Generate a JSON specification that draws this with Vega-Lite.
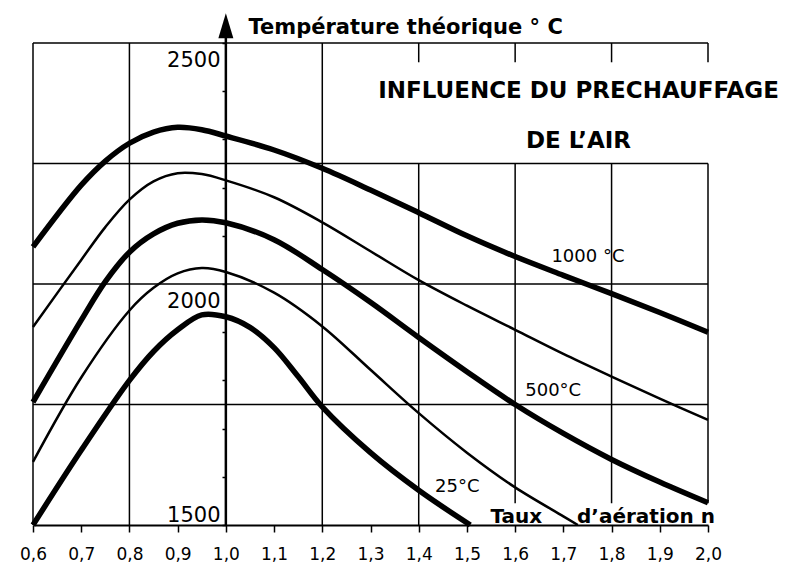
{
  "$schema": "https://vega.github.io/schema/vega-lite/v6.json",
  "width": 675,
  "height": 482,
  "autosize": "none",
  "padding": {"left": 33, "top": 43, "right": 82, "bottom": 45},
  "background": "white",
  "config": {"view": {"stroke": null}, "axis": {"grid": false}},
  "title": {
    "text": ["INFLUENCE DU PRECHAUFFAGE", "DE L’AIR"],
    "anchor": "middle",
    "frame": "group",
    "orient": "top",
    "offset": 0,
    "baseline": "alphabetic",
    "dx": 208,
    "dy": 158,
    "lineHeight": 50,
    "font": "DejaVu Sans",
    "fontSize": 23,
    "fontWeight": "bold",
    "color": "black"
  },
  "encoding": {
    "x": {
      "field": "n",
      "type": "quantitative",
      "scale": {"domain": [0.6, 2.0], "nice": false, "zero": false},
      "axis": {
        "values": [0.6, 0.7, 0.8, 0.9, 1.0, 1.1, 1.2, 1.3, 1.4, 1.5, 1.6, 1.7, 1.8, 1.9, 2.0],
        "labelExpr": "replace(format(datum.value, '.1f'), '.', ',')",
        "labelOverlap": false,
        "labelFlush": false,
        "domainColor": "black",
        "domainWidth": 2,
        "tickColor": "black",
        "tickWidth": 1.5,
        "tickSize": 7,
        "labelFont": "DejaVu Sans",
        "labelFontSize": 17,
        "labelColor": "black",
        "labelPadding": 14,
        "title": "Taux\u00a0\u00a0\u00a0\u00a0\u00a0d’aération n",
        "titleFont": "DejaVu Sans",
        "titleFontWeight": "bold",
        "titleFontSize": 20,
        "titleColor": "black",
        "titleAlign": "left",
        "titleAnchor": "start",
        "titleBaseline": "alphabetic",
        "titleX": 457,
        "titleY": -3
      }
    },
    "y": {
      "field": "t",
      "type": "quantitative",
      "scale": {"domain": [1500, 2500], "nice": false, "zero": false},
      "axis": {
        "orient": "left",
        "offset": -193,
        "domain": false,
        "values": [1500, 1600, 1700, 1800, 1900, 2000, 2100, 2200, 2300, 2400, 2500],
        "format": "d",
        "labelExpr": "datum.value % 500 === 0 ? datum.label : ''",
        "labelOverlap": false,
        "labelFlush": false,
        "tickSize": 4,
        "tickWidth": 1.5,
        "tickColor": "black",
        "labelFont": "DejaVu Sans",
        "labelFontSize": 21,
        "labelColor": "black",
        "labelPadding": 2,
        "labelBaseline": {"condition": {"test": "datum.value === 1500", "value": "bottom"}, "value": "top"},
        "labelOffset": {"condition": {"test": "datum.value === 1500", "value": 0}, "value": 6},
        "title": "Température théorique ° C",
        "titleAngle": 0,
        "titleAlign": "left",
        "titleBaseline": "alphabetic",
        "titleX": 22,
        "titleY": -10,
        "titleFont": "DejaVu Sans",
        "titleFontWeight": "bold",
        "titleFontSize": 21,
        "titleColor": "black"
      }
    }
  },
  "layer": [
    {
      "data": {"values": [
        {"n": 0.6, "n2": 2.0, "t": 2500, "t2": 2500},
        {"n": 0.6, "n2": 2.0, "t": 2250, "t2": 2250},
        {"n": 0.6, "n2": 2.0, "t": 2000, "t2": 2000},
        {"n": 0.6, "n2": 2.0, "t": 1750, "t2": 1750},
        {"n": 0.6, "n2": 0.6, "t": 1500, "t2": 2500},
        {"n": 0.8, "n2": 0.8, "t": 1500, "t2": 2500},
        {"n": 1.2, "n2": 1.2, "t": 1500, "t2": 2500},
        {"n": 1.4, "n2": 1.4, "t": 1500, "t2": 2250},
        {"n": 1.4, "n2": 1.4, "t": 2460, "t2": 2500},
        {"n": 1.6, "n2": 1.6, "t": 1545, "t2": 2250},
        {"n": 1.6, "n2": 1.6, "t": 2460, "t2": 2500},
        {"n": 1.8, "n2": 1.8, "t": 1545, "t2": 2250},
        {"n": 1.8, "n2": 1.8, "t": 2460, "t2": 2500},
        {"n": 2.0, "n2": 2.0, "t": 1545, "t2": 2250},
        {"n": 2.0, "n2": 2.0, "t": 2460, "t2": 2500}
      ]},
      "mark": {"type": "rule", "color": "black", "strokeWidth": 1.5},
      "encoding": {
        "x2": {"field": "n2"},
        "y2": {"field": "t2"}
      }
    },
    {
      "data": {"values": [{"n": 1.0, "t": 1500, "t2": 2512}]},
      "mark": {"type": "rule", "color": "black", "strokeWidth": 2.5},
      "encoding": {"y2": {"field": "t2"}}
    },
    {
      "data": {"values": [{"n": 1.0, "t": 2536}]},
      "mark": {"type": "point", "filled": true, "shape": "M0,-1L0.6,1L-0.6,1Z", "size": 625, "color": "black", "opacity": 1},
      "encoding": {}
    },
    {
      "data": {"values": [
        {"air": "1000", "n": 0.6, "t": 2077},
        {"air": "1000", "n": 0.7, "t": 2205},
        {"air": "1000", "n": 0.75, "t": 2255},
        {"air": "1000", "n": 0.8, "t": 2292},
        {"air": "1000", "n": 0.85, "t": 2315},
        {"air": "1000", "n": 0.9, "t": 2325},
        {"air": "1000", "n": 0.95, "t": 2320},
        {"air": "1000", "n": 1.0, "t": 2307},
        {"air": "1000", "n": 1.1, "t": 2278},
        {"air": "1000", "n": 1.2, "t": 2240},
        {"air": "1000", "n": 1.3, "t": 2195},
        {"air": "1000", "n": 1.4, "t": 2148},
        {"air": "1000", "n": 1.5, "t": 2100},
        {"air": "1000", "n": 1.6, "t": 2057},
        {"air": "1000", "n": 1.7, "t": 2018},
        {"air": "1000", "n": 1.8, "t": 1980},
        {"air": "1000", "n": 1.9, "t": 1941},
        {"air": "1000", "n": 2.0, "t": 1900},
        {"air": "750", "n": 0.6, "t": 1911},
        {"air": "750", "n": 0.7, "t": 2050},
        {"air": "750", "n": 0.75, "t": 2118},
        {"air": "750", "n": 0.8, "t": 2175},
        {"air": "750", "n": 0.85, "t": 2213},
        {"air": "750", "n": 0.9, "t": 2230},
        {"air": "750", "n": 0.95, "t": 2228},
        {"air": "750", "n": 1.0, "t": 2215},
        {"air": "750", "n": 1.1, "t": 2180},
        {"air": "750", "n": 1.2, "t": 2128},
        {"air": "750", "n": 1.3, "t": 2068},
        {"air": "750", "n": 1.4, "t": 2008},
        {"air": "750", "n": 1.5, "t": 1955},
        {"air": "750", "n": 1.6, "t": 1905},
        {"air": "750", "n": 1.7, "t": 1855},
        {"air": "750", "n": 1.8, "t": 1808},
        {"air": "750", "n": 1.9, "t": 1762},
        {"air": "750", "n": 2.0, "t": 1718},
        {"air": "500", "n": 0.6, "t": 1755},
        {"air": "500", "n": 0.7, "t": 1925},
        {"air": "500", "n": 0.75, "t": 2005},
        {"air": "500", "n": 0.8, "t": 2066},
        {"air": "500", "n": 0.85, "t": 2104},
        {"air": "500", "n": 0.9, "t": 2126},
        {"air": "500", "n": 0.95, "t": 2133},
        {"air": "500", "n": 1.0, "t": 2127},
        {"air": "500", "n": 1.1, "t": 2092},
        {"air": "500", "n": 1.2, "t": 2030},
        {"air": "500", "n": 1.3, "t": 1962},
        {"air": "500", "n": 1.4, "t": 1889},
        {"air": "500", "n": 1.5, "t": 1818},
        {"air": "500", "n": 1.6, "t": 1750},
        {"air": "500", "n": 1.7, "t": 1690},
        {"air": "500", "n": 1.8, "t": 1636},
        {"air": "500", "n": 1.9, "t": 1589},
        {"air": "500", "n": 2.0, "t": 1546},
        {"air": "250", "n": 0.6, "t": 1631},
        {"air": "250", "n": 0.7, "t": 1806},
        {"air": "250", "n": 0.8, "t": 1945},
        {"air": "250", "n": 0.85, "t": 1992},
        {"air": "250", "n": 0.9, "t": 2022},
        {"air": "250", "n": 0.95, "t": 2033},
        {"air": "250", "n": 1.0, "t": 2025},
        {"air": "250", "n": 1.1, "t": 1982},
        {"air": "250", "n": 1.2, "t": 1912},
        {"air": "250", "n": 1.3, "t": 1822},
        {"air": "250", "n": 1.4, "t": 1732},
        {"air": "250", "n": 1.5, "t": 1650},
        {"air": "250", "n": 1.6, "t": 1578},
        {"air": "250", "n": 1.7, "t": 1518},
        {"air": "250", "n": 1.73, "t": 1500},
        {"air": "25", "n": 0.6, "t": 1500},
        {"air": "25", "n": 0.7, "t": 1655},
        {"air": "25", "n": 0.8, "t": 1800},
        {"air": "25", "n": 0.85, "t": 1860},
        {"air": "25", "n": 0.9, "t": 1905},
        {"air": "25", "n": 0.95, "t": 1936},
        {"air": "25", "n": 1.0, "t": 1932},
        {"air": "25", "n": 1.05, "t": 1910},
        {"air": "25", "n": 1.1, "t": 1868},
        {"air": "25", "n": 1.15, "t": 1808},
        {"air": "25", "n": 1.2, "t": 1745},
        {"air": "25", "n": 1.3, "t": 1650},
        {"air": "25", "n": 1.4, "t": 1572},
        {"air": "25", "n": 1.507, "t": 1500}
      ]},
      "mark": {"type": "line", "color": "black", "interpolate": "catmull-rom"},
      "encoding": {
        "strokeWidth": {
          "field": "air",
          "type": "nominal",
          "scale": {"type": "ordinal", "domain": ["1000", "750", "500", "250", "25"], "range": [5.5, 2.5, 5.5, 2.5, 5.5]},
          "legend": null
        }
      }
    },
    {
      "data": {"values": [
        {"label": "1000 °C", "n": 1.751, "t": 2056},
        {"label": "500°C", "n": 1.679, "t": 1778},
        {"label": "25°C", "n": 1.48, "t": 1579}
      ]},
      "mark": {"type": "text", "font": "DejaVu Sans", "fontSize": 18, "color": "black", "align": "center", "baseline": "middle"},
      "encoding": {"text": {"field": "label"}}
    }
  ]
}
